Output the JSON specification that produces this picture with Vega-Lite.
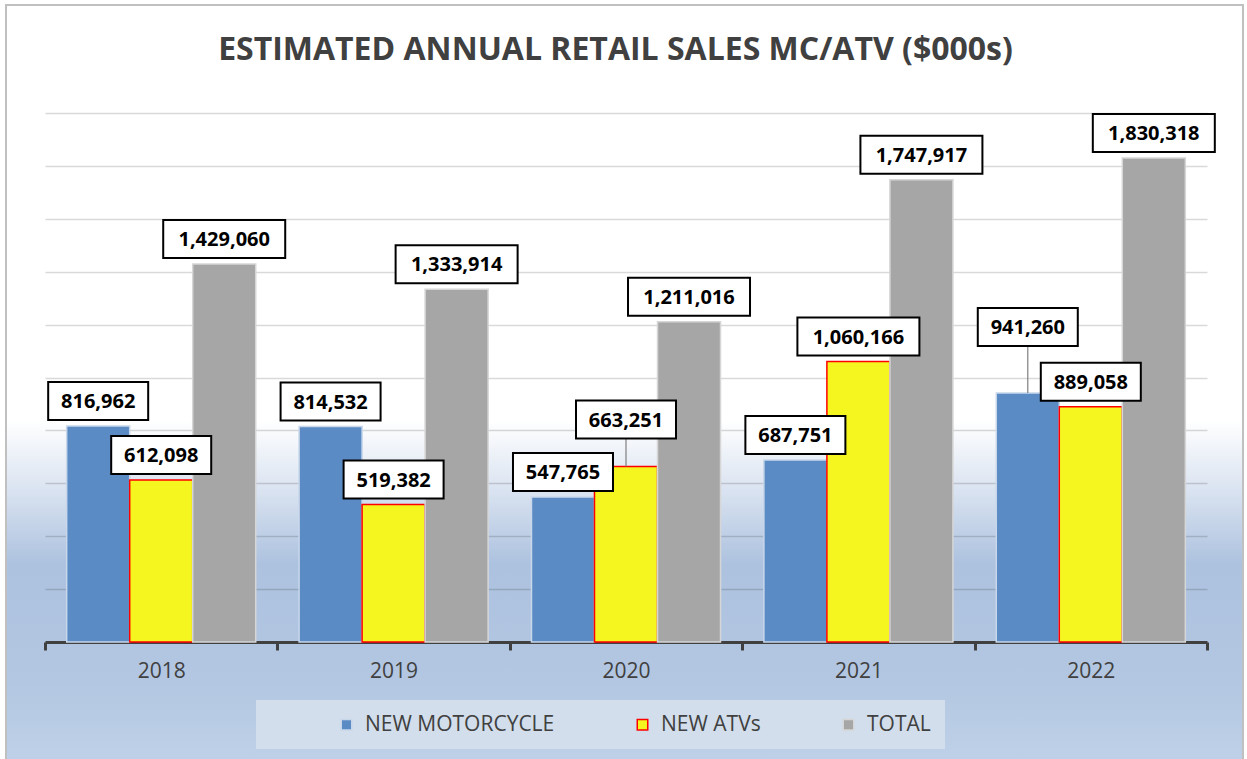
{
  "$schema": "https://vega.github.io/schema/vega-lite/v6.json",
  "autosize": "none",
  "width": 1237,
  "height": 755,
  "padding": {"left": 6, "top": 5, "right": 4, "bottom": 0},
  "background": "#ffffff",
  "title": {
    "text": "ESTIMATED ANNUAL RETAIL SALES MC/ATV ($000s)",
    "font": "Open Sans",
    "fontSize": 32,
    "fontWeight": "bold",
    "color": "#404040",
    "anchor": "middle",
    "offset": -62,
    "dx": -9
  },
  "data": {
    "values": [
      {"year": "2018", "series": "NEW MOTORCYCLE", "value": 816962},
      {"year": "2018", "series": "NEW ATVs", "value": 612098},
      {"year": "2018", "series": "TOTAL", "value": 1429060},
      {"year": "2019", "series": "NEW MOTORCYCLE", "value": 814532},
      {"year": "2019", "series": "NEW ATVs", "value": 519382},
      {"year": "2019", "series": "TOTAL", "value": 1333914},
      {"year": "2020", "series": "NEW MOTORCYCLE", "value": 547765},
      {"year": "2020", "series": "NEW ATVs", "value": 663251},
      {"year": "2020", "series": "TOTAL", "value": 1211016},
      {"year": "2021", "series": "NEW MOTORCYCLE", "value": 687751},
      {"year": "2021", "series": "NEW ATVs", "value": 1060166},
      {"year": "2021", "series": "TOTAL", "value": 1747917},
      {"year": "2022", "series": "NEW MOTORCYCLE", "value": 941260},
      {"year": "2022", "series": "NEW ATVs", "value": 889058},
      {"year": "2022", "series": "TOTAL", "value": 1830318}
    ]
  },
  "encoding": {
    "x": {
      "field": "year",
      "type": "nominal",
      "scale": {"range": [39, 1201], "paddingInner": 0, "paddingOuter": 0},
      "axis": {
        "title": null,
        "orient": "bottom",
        "offset": -118,
        "labelAngle": 0,
        "labelFont": "Open Sans",
        "labelFontSize": 21,
        "labelColor": "#404040",
        "labelPadding": 10,
        "domainColor": "#404040",
        "domainWidth": 3,
        "tickColor": "#404040",
        "tickWidth": 3,
        "tickSize": 8,
        "tickBand": "extent",
        "grid": false
      }
    },
    "xOffset": {
      "field": "series",
      "type": "nominal",
      "sort": ["NEW MOTORCYCLE", "NEW ATVs", "TOTAL"],
      "scale": {"paddingInner": 0, "paddingOuter": 0.344}
    },
    "y": {
      "field": "value",
      "type": "quantitative",
      "scale": {"domain": [0, 2000000], "range": [637, 108], "nice": false, "zero": true},
      "axis": {
        "title": null,
        "labels": false,
        "ticks": false,
        "domain": false,
        "grid": true,
        "values": [200000, 400000, 600000, 800000, 1000000, 1200000, 1400000, 1600000, 1800000, 2000000],
        "gridColor": "#000000",
        "gridOpacity": 0.15,
        "gridWidth": 1.5
      }
    }
  },
  "layer": [
    {
      "mark": {"type": "bar", "strokeWidth": 1.5},
      "encoding": {
        "color": {
          "field": "series",
          "type": "nominal",
          "sort": ["NEW MOTORCYCLE", "NEW ATVs", "TOTAL"],
          "scale": {"domain": ["NEW MOTORCYCLE", "NEW ATVs", "TOTAL"], "range": ["#5b8bc4", "#f5f520", "#a6a6a6"]},
          "legend": {
            "title": " ",
            "titleOrient": "left",
            "titlePadding": 66,
            "orient": "none",
            "legendX": 250,
            "legendY": 695,
            "direction": "horizontal",
            "fillColor": "#d2deeb",
            "padding": 14,
            "symbolType": "square",
            "symbolSize": 110,
            "symbolStrokeWidth": 1.5,
            "labelFont": "Open Sans",
            "labelFontSize": 21,
            "labelColor": "#404040",
            "labelOffset": 8,
            "columnPadding": 77,
            "labelLimit": 400
          }
        },
        "stroke": {
          "field": "series",
          "type": "nominal",
          "sort": ["NEW MOTORCYCLE", "NEW ATVs", "TOTAL"],
          "scale": {"domain": ["NEW MOTORCYCLE", "NEW ATVs", "TOTAL"], "range": ["#c9d7eb", "#ff0000", "#d6d6d6"]},
          "legend": {
            "title": " ",
            "titleOrient": "left",
            "titlePadding": 66,
            "orient": "none",
            "legendX": 250,
            "legendY": 695,
            "direction": "horizontal",
            "fillColor": "#d2deeb",
            "padding": 14,
            "symbolType": "square",
            "symbolSize": 110,
            "symbolStrokeWidth": 1.5,
            "labelFont": "Open Sans",
            "labelFontSize": 21,
            "labelColor": "#404040",
            "labelOffset": 8,
            "columnPadding": 77,
            "labelLimit": 400
          }
        }
      }
    },
    {
      "transform": [{"filter": "!((datum.year == '2020' && datum.series == 'NEW ATVs') || (datum.year == '2022' && datum.series == 'NEW MOTORCYCLE'))"}],
      "layer": [
        {
          "mark": {"type": "point", "filled": true, "fill": "#ffffff", "stroke": "#000000", "strokeWidth": 2, "opacity": 1, "size": 10000, "yOffset": -25},
          "encoding": {
            "shape": {"condition": {"test": "datum.value >= 1000000", "value": "M-1.22,-0.38H1.22V0.38H-1.22Z"}, "value": "M-1,-0.38H1V0.38H-1Z"}
          }
        },
        {
          "mark": {"type": "text", "font": "Open Sans", "fontSize": 20, "fontWeight": "bold", "color": "#000000", "baseline": "middle", "align": "center", "yOffset": -24},
          "encoding": {"text": {"field": "value", "type": "quantitative", "format": ",d"}}
        }
      ]
    },
    {
      "transform": [{"filter": "datum.year == '2020' && datum.series == 'NEW ATVs'"}],
      "layer": [
        {
          "mark": {"type": "rule", "color": "#7f7f7f", "strokeWidth": 1.2, "y2Offset": -28},
          "encoding": {"y2": {"field": "value"}}
        },
        {
          "mark": {"type": "point", "filled": true, "fill": "#ffffff", "stroke": "#000000", "strokeWidth": 2, "opacity": 1, "size": 10000, "yOffset": -47, "shape": "M-1,-0.38H1V0.38H-1Z"},
          "encoding": {}
        },
        {
          "mark": {"type": "text", "font": "Open Sans", "fontSize": 20, "fontWeight": "bold", "color": "#000000", "baseline": "middle", "align": "center", "yOffset": -46},
          "encoding": {"text": {"field": "value", "type": "quantitative", "format": ",d"}}
        }
      ]
    },
    {
      "transform": [{"filter": "datum.year == '2022' && datum.series == 'NEW MOTORCYCLE'"}],
      "layer": [
        {
          "mark": {"type": "rule", "color": "#7f7f7f", "strokeWidth": 1.2, "y2Offset": -47},
          "encoding": {"y2": {"field": "value"}}
        },
        {
          "mark": {"type": "point", "filled": true, "fill": "#ffffff", "stroke": "#000000", "strokeWidth": 2, "opacity": 1, "size": 10000, "yOffset": -66, "shape": "M-1,-0.38H1V0.38H-1Z"},
          "encoding": {}
        },
        {
          "mark": {"type": "text", "font": "Open Sans", "fontSize": 20, "fontWeight": "bold", "color": "#000000", "baseline": "middle", "align": "center", "yOffset": -65},
          "encoding": {"text": {"field": "value", "type": "quantitative", "format": ",d"}}
        }
      ]
    }
  ],
  "config": {
    "view": {
      "fill": {
        "gradient": "linear",
        "x1": 0, "y1": 0, "x2": 0, "y2": 1,
        "stops": [
          {"offset": 0, "color": "#ffffff"},
          {"offset": 0.55, "color": "#ffffff"},
          {"offset": 0.64, "color": "#dbe4f1"},
          {"offset": 0.74, "color": "#adc2df"},
          {"offset": 0.9, "color": "#b3c7e2"},
          {"offset": 1, "color": "#bfd1e8"}
        ]
      },
      "stroke": "#c0c0c0",
      "strokeWidth": 2
    }
  }
}
